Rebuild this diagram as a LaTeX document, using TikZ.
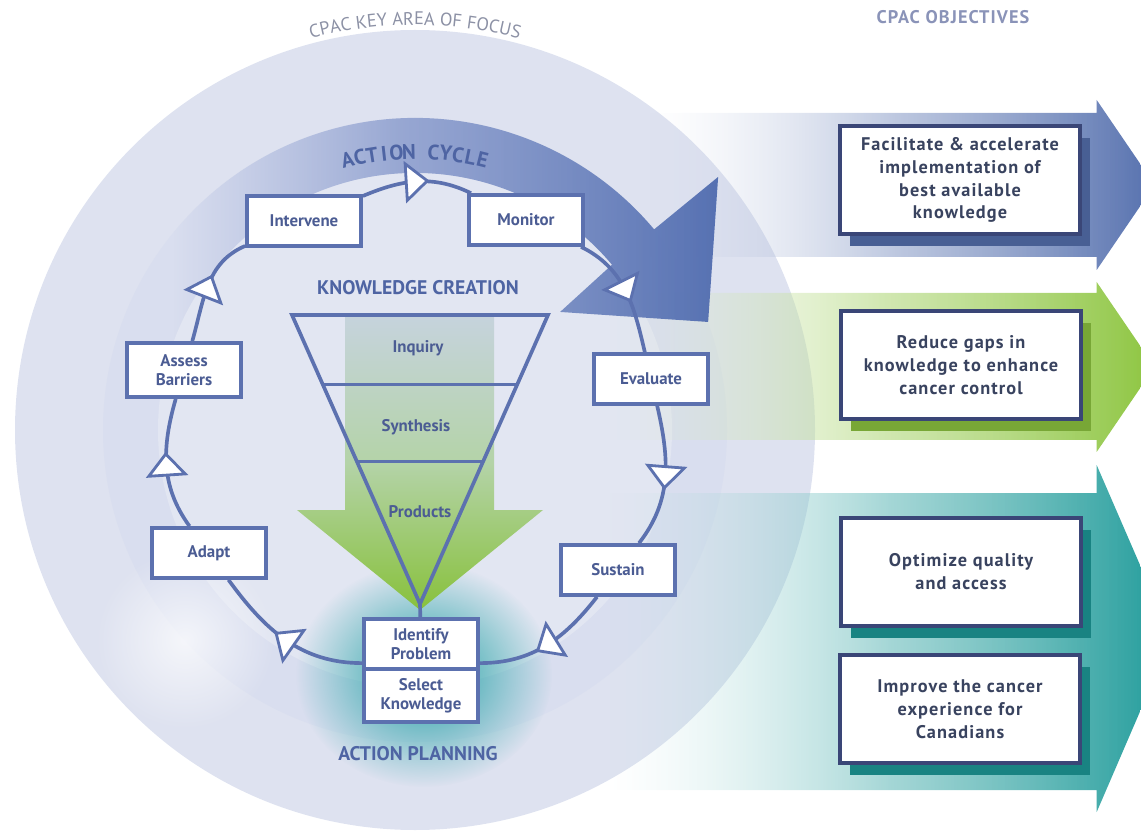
\documentclass[tikz,border=0pt]{standalone}
\usepackage{fontspec}
\setmainfont{PT Sans}
\newfontfamily\objfont[LetterSpace=6.0]{PT Sans}
\usepackage{tikz}
\usetikzlibrary{positioning,calc,decorations.markings,decorations.text,fadings,shadows}

\definecolor{circlebg}{HTML}{DEE2F0}
\definecolor{ringbg}{HTML}{D9DEEF}
\definecolor{innerbg}{HTML}{E2E6F2}
\definecolor{bandmid}{HTML}{8496CE}
\definecolor{banddark}{HTML}{5671B2}
\definecolor{cycleblue}{HTML}{5C71AF}
\definecolor{labelblue}{HTML}{4B5C93}
\definecolor{titleblue}{HTML}{4E64A3}
\definecolor{focusgray}{HTML}{8C91A5}
\definecolor{objtitlec}{HTML}{8A93B8}
\definecolor{objnavy}{HTML}{3A4677}
\definecolor{objtext}{HTML}{39435F}
\definecolor{objblue}{HTML}{5570AE}
\definecolor{objgreen}{HTML}{8DC540}
\definecolor{objteal}{HTML}{1E9A99}
\definecolor{glowteal}{HTML}{22A2A5}
\definecolor{kgtop}{HTML}{C6D3DD}
\definecolor{kgmid}{HTML}{B4D3A8}
\definecolor{kgbot}{HTML}{88C13C}

\tikzfading[name=objfade, left color=transparent!100, right color=transparent!0, middle color=transparent!35]
\tikzfading[name=glowfade, inner color=transparent!0, outer color=transparent!100]
\pgfdeclarehorizontalshading{bandramp}{100bp}{color(0bp)=(black); color(32.5bp)=(black);
  color(50bp)=(black!40); color(75bp)=(white); color(100bp)=(white)}
\tikzfading[name=bandfade, shading=bandramp]

\begin{document}
\begin{tikzpicture}[x=0.025cm, y=0.025cm,
  cyclebox/.style={draw=cycleblue, line width=2.6pt, fill=white, text=labelblue,
    font=\bfseries\fontsize{12}{13.5}\selectfont, align=center,
    minimum width=2.85cm, minimum height=1.25cm, inner sep=0pt},
  objbox/.style={draw=objnavy, line width=2.8pt, fill=white, text=objtext,
    font=\objfont\bfseries\fontsize{13}{16.3}\selectfont, align=center,
    minimum width=6cm, minimum height=2.72cm, inner sep=0pt},
  cycleline/.style={draw=cycleblue, line width=2.6pt, postaction={decorate},
    decoration={markings, mark=at position 0.5 with {
      \draw[cycleblue, line width=2pt, fill=white, line join=miter]
        (7.5pt,0pt) -- (-7.5pt,13pt) -- (-7.5pt,-13pt) -- cycle;}}},
  funnelline/.style={draw=cycleblue, line width=2.6pt, line join=miter},
  funnellabel/.style={text=labelblue, font=\bfseries\fontsize{12}{14}\selectfont},
  areatitle/.style={text=titleblue, font=\bfseries\fontsize{14}{16}\selectfont},
  cycletitle/.style={text=titleblue, font=\bfseries\fontsize{15}{17}\selectfont, inner sep=0pt},
]
\useasboundingbox (0,0) rectangle (1141,830);
\coordinate (C) at (415,400);

% key area of focus
\fill[circlebg] (C) circle[radius=400];
\fill[ringbg] (C) circle[radius=312];
\fill[innerbg] (C) circle[radius=257];
\fill[white, opacity=.7, path fading=glowfade] (185,190) circle[radius=90];
\fill[glowteal, path fading=glowfade] (424,155) ellipse[x radius=128, y radius=112];

\path[decorate, decoration={text along path, text align=center, text color=focusgray,
    text={|\fontsize{13}{15}\selectfont|CPAC KEY AREA OF FOCUS}}]
  ([shift={(126:405)}]C) arc[start angle=126, end angle=54, radius=405];

% objectives
\shade[left color=objblue!25, right color=objblue, path fading=objfade]
  (650,717) -- (1097,717) -- (1097,730) -- (1155,645) -- (1097,560) -- (1097,573) -- (650,573) -- cycle;
\shade[left color=objgreen!25, right color=objgreen, path fading=objfade]
  (610,537) -- (1097,537) -- (1097,548) -- (1155,463) -- (1097,378) -- (1097,390) -- (610,390) -- cycle;
\shade[left color=objteal!25, right color=objteal, path fading=objfade]
  (610,337) -- (1097,337) -- (1097,365) -- (1172,192) -- (1097,18) -- (1097,40) -- (610,40) -- cycle;

% action cycle band
\shade[left color=bandmid, right color=banddark, path fading=bandfade]
  ([shift={(190:312)}]C) arc[start angle=190, end angle=40, radius=312]
  -- (718,653) -- (708,508) -- (560,518)
  -- ([shift={(40:257)}]C) arc[start angle=40, end angle=190, radius=257] -- cycle;
\foreach \ch [count=\i from 0] in {A,C,T,I,O,N,{},C,Y,C,L,E} {
  \pgfmathsetmacro\ang{90+(5.5-\i)*2.55}
  \node[cycletitle, rotate=\ang-90, anchor=base] (ac\i) at ([shift={(\ang:271)}]C) {\ch};
}

% knowledge creation
\shade[top color=kgtop, bottom color=kgbot, middle color=kgmid]
  (345,515) -- (494,515) -- (494,320) -- (543,320) -- (420,220) -- (297,320) -- (345,320) -- cycle;
\coordinate (ftl) at (292,515);
\coordinate (ftr) at (548,515);
\coordinate (fapex) at (420,226);
\draw[funnelline] (ftl) -- (ftr) -- (fapex) -- cycle;
\draw[funnelline] ($(ftl)!0.24!(fapex)$) -- ($(ftr)!0.24!(fapex)$);
\draw[funnelline] ($(ftl)!0.507!(fapex)$) -- ($(ftr)!0.507!(fapex)$);
\node[funnellabel] (inquiry) at (418,482) {Inquiry};
\node[funnellabel] (synthesis) at (416,403) {Synthesis};
\node[funnellabel] (products) at (420,318) {Products};
\node[areatitle] (kcreation) at (418,542) {KNOWLEDGE CREATION};
\node[areatitle] (aplanning) at (418,76) {ACTION PLANNING};

% cycle steps
\node[cyclebox] (intervene) at (304,609) {Intervene};
\node[cyclebox] (monitor) at (526,610) {Monitor};
\node[cyclebox] (evaluate) at (651,451) {Evaluate};
\node[cyclebox] (sustain) at (618,260) {Sustain};
\node[cyclebox] (identify) at (421,186) {Identify\\Problem};
\node[cyclebox, below=-2.6pt of identify, minimum height=1.32cm] (select) {Select\\Knowledge};
\node[cyclebox] (adapt) at (209,277) {Adapt};
\node[cyclebox, minimum height=1.35cm] (assess) at (184,460) {Assess\\Barriers};
\draw[funnelline] (fapex) -- (identify);

\draw[cycleline] (intervene) to[out=23, in=154] (monitor);
\draw[cycleline] (monitor) to[out=-26, in=103] (evaluate);
\draw[cycleline] (evaluate) to[out=-77, in=52] (sustain);
\draw[cycleline] (sustain) to[out=232, in=0] (identify.-18);
\draw[cycleline] (identify.198) to[out=180, in=-54] (adapt);
\draw[cycleline] (adapt) to[out=126, in=-106] (assess);
\draw[cycleline] (assess) to[out=74, in=203] (intervene);

% objectives text
\node[text=objtitlec, font=\objfont\bfseries\fontsize{13}{15}\selectfont] (objectives) at (953,813) {CPAC OBJECTIVES};
\node[objbox, drop shadow={shadow xshift=7pt, shadow yshift=-8.5pt, fill=objblue!85!black, opacity=1}]
  (facilitate) at (960,650) {Facilitate \& accelerate\\implementation of\\best available\\knowledge};
\node[objbox, drop shadow={shadow xshift=7pt, shadow yshift=-8.5pt, fill=objgreen!85!black, opacity=1}]
  (reduce) at (961,465) {Reduce gaps in\\knowledge to enhance\\cancer control};
\node[objbox, drop shadow={shadow xshift=7pt, shadow yshift=-8.5pt, fill=objteal!85!black, opacity=1}]
  (optimize) at (961,258) {Optimize quality\\and access};
\node[objbox, drop shadow={shadow xshift=7pt, shadow yshift=-8.5pt, fill=objteal!85!black, opacity=1}]
  (improve) at (960,121) {Improve the cancer\\experience for\\Canadians};
\end{tikzpicture}
\end{document}
